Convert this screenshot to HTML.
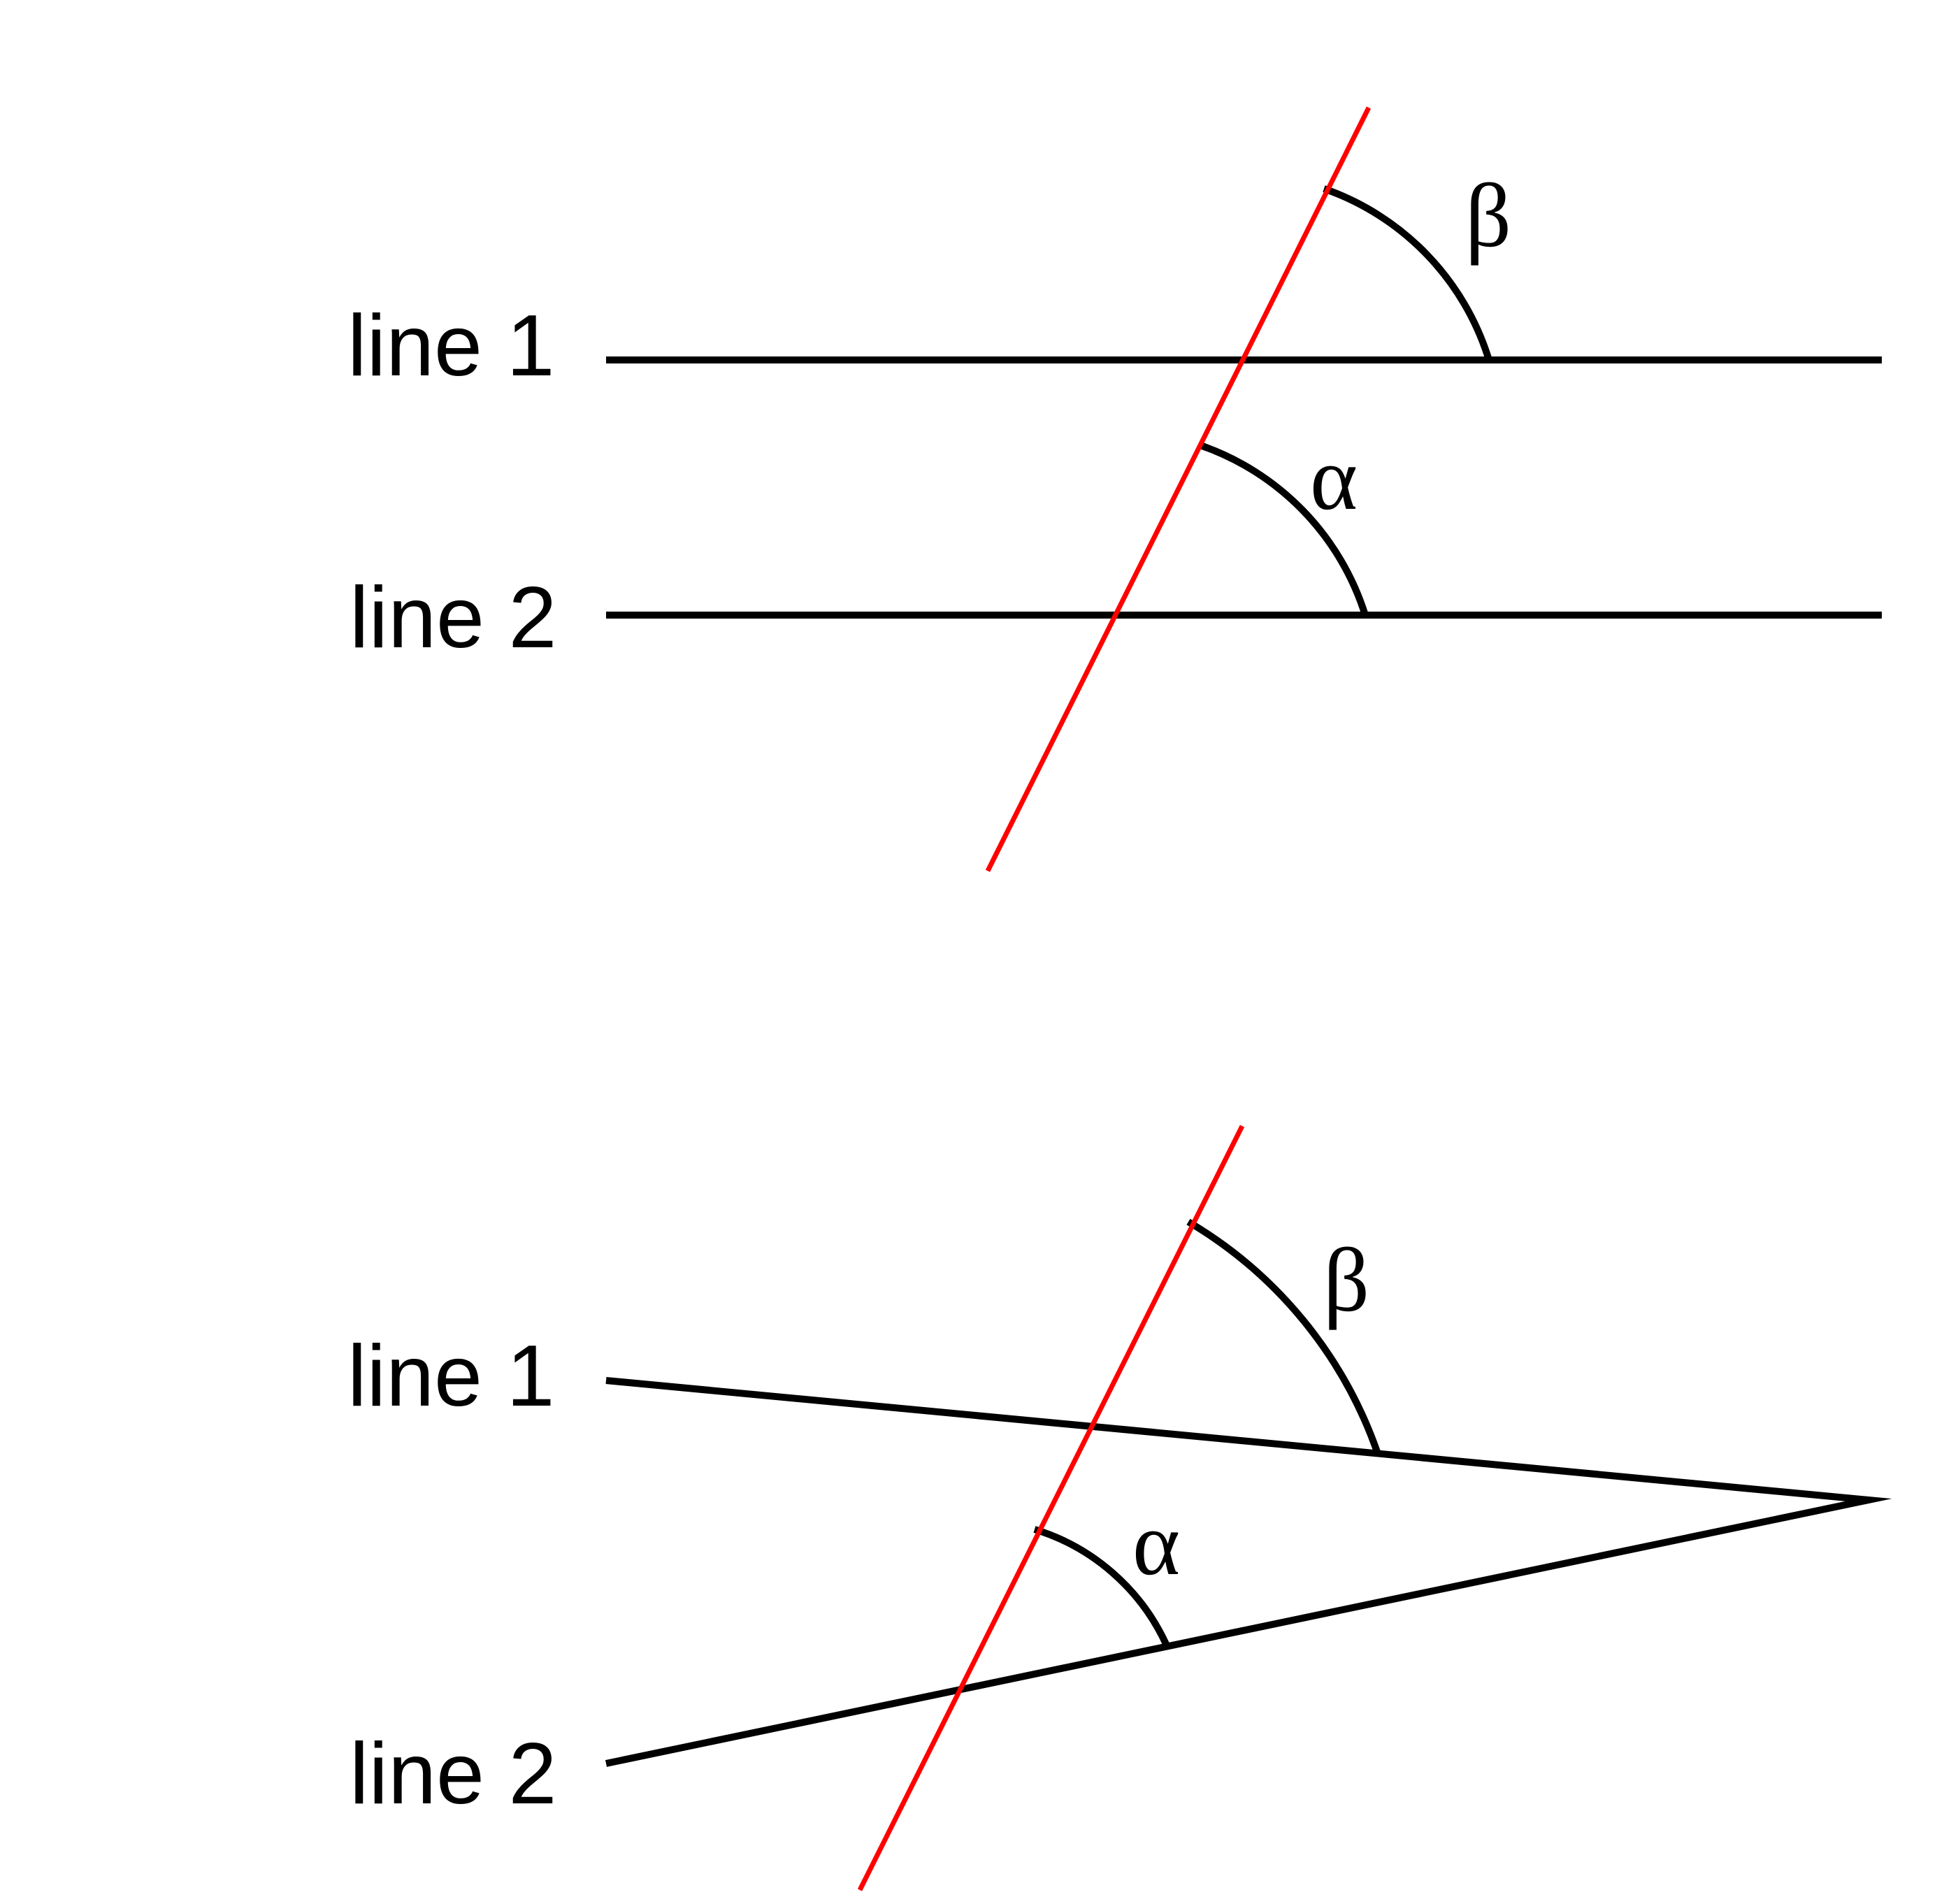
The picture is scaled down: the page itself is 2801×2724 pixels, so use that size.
<!DOCTYPE html>
<html><head><meta charset="utf-8"><style>
html,body{margin:0;padding:0;background:#fff;}
svg{display:block;}
</style></head><body>
<svg width="2801" height="2724" viewBox="0 0 2801 2724" xmlns="http://www.w3.org/2000/svg">
<rect width="2801" height="2724" fill="#fff"/>
<g stroke="#000" stroke-width="10" fill="none" stroke-miterlimit="20">
<line x1="867" y1="515" x2="2692" y2="515"/>
<line x1="867" y1="880" x2="2692" y2="880"/>
<path d="M1894,270 A376,376 0 0 1 2130,515"/>
<path d="M1717,637 A376,376 0 0 1 1953,880"/>
<polyline points="867,1975 2673,2146 867,2523"/>
<path d="M1700,1748 A620,620 0 0 1 1970,2077"/>
<path d="M1480,2188 A306,306 0 0 1 1668,2352"/>
</g>
<g stroke="#ff0000" stroke-width="7">
<line x1="1958" y1="154" x2="1413" y2="1246"/>
<line x1="1777" y1="1611" x2="1230" y2="2704"/>
</g>
<g font-family="Liberation Sans, sans-serif" font-size="124" fill="#000">
<text x="497" y="537">line 1</text>
<text x="500" y="926">line 2</text>
<text x="497" y="2011">line 1</text>
<text x="500" y="2580">line 2</text>
</g>
<g font-family="Liberation Serif, serif" font-size="130" fill="#000">
<text x="2096" y="352">β</text>
<text x="1874" y="728">α</text>
<text x="1893" y="1875">β</text>
<text x="1620" y="2252">α</text>
</g>
</svg>
</body></html>
